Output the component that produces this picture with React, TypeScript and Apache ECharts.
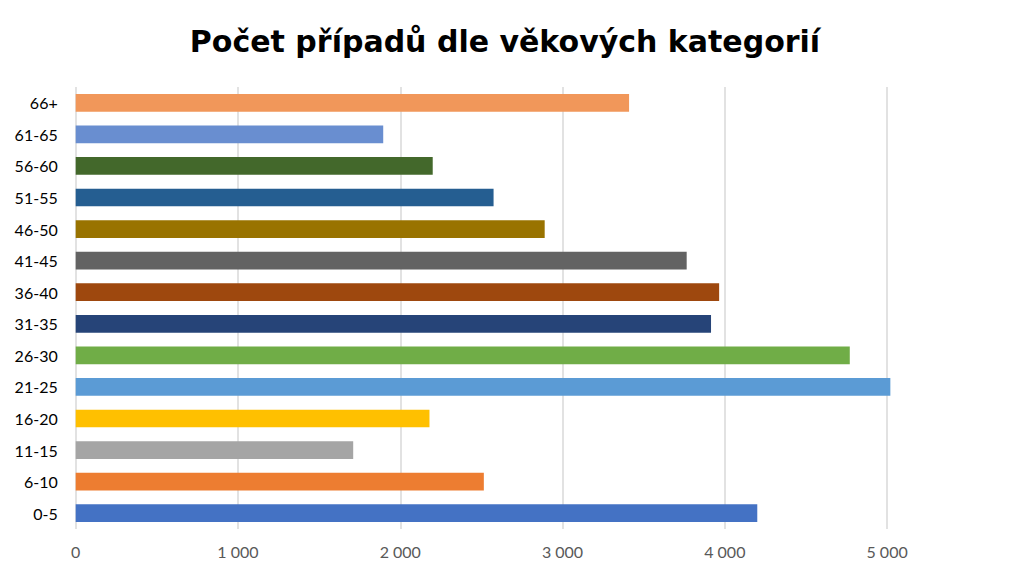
import React, { useEffect, useRef } from "react";
import * as echarts from "echarts";

const categories = ["0-5", "6-10", "11-15", "16-20", "21-25", "26-30", "31-35", "36-40", "41-45", "46-50", "51-55", "56-60", "61-65", "66+"];
const values = [4200, 2515, 1710, 2180, 5020, 4770, 3915, 3965, 3765, 2890, 2575, 2200, 1895, 3410];
const colors = ["#4472C4", "#ED7D31", "#A5A5A5", "#FFC000", "#5B9BD5", "#70AD47", "#264478", "#9E480E", "#636363", "#997300", "#255E91", "#43682B", "#698ED0", "#F1975A"];
const titleText = "Počet případů dle věkových kategorií";

export default function App() {
  const ref = useRef<HTMLDivElement>(null);
  useEffect(() => {
    if (!ref.current) return;
    const chart = echarts.init(ref.current, null, { renderer: "svg" });
    chart.setOption({
      animation: false,
      backgroundColor: "#ffffff",
      title: {
        text: titleText,
        left: "center",
        top: 21,
        textStyle: { fontFamily: "DejaVu Sans", fontWeight: "bold", fontSize: 30, color: "#000000" },
      },
      grid: { left: 75.7, right: 9.3, top: 87, bottom: 49, containLabel: false },
      xAxis: {
        type: "value",
        min: 0,
        max: 5700,
        interval: 1000,
        axisLine: { show: false },
        axisTick: { show: false },
        splitLine: { show: true, showMaxLine: false, lineStyle: { color: "#D9D9D9", width: 1.5 } },
        axisLabel: {
          showMaxLabel: false,
          margin: 14,
          fontFamily: "Lato",
          fontSize: 16,
          color: "#595959",
          formatter: (v: number) => (v >= 1000 ? `${Math.floor(v / 1000)} ${String(v % 1000).padStart(3, "0")}` : String(v)),
        },
      },
      yAxis: {
        type: "category",
        data: categories,
        axisLine: { show: false },
        axisTick: { show: false },
        axisLabel: { margin: 18, fontFamily: "Lato", fontSize: 16, color: "#000000" },
      },
      series: [
        {
          type: "bar",
          data: values.map((v, i) => ({ value: v, itemStyle: { color: colors[i] } })),
          barCategoryGap: "44%",
        },
      ],
    });
    return () => chart.dispose();
  }, []);
  return <div ref={ref} style={{ width: 1010, height: 578, position: "absolute", left: 0, top: 0 }} />;
}
